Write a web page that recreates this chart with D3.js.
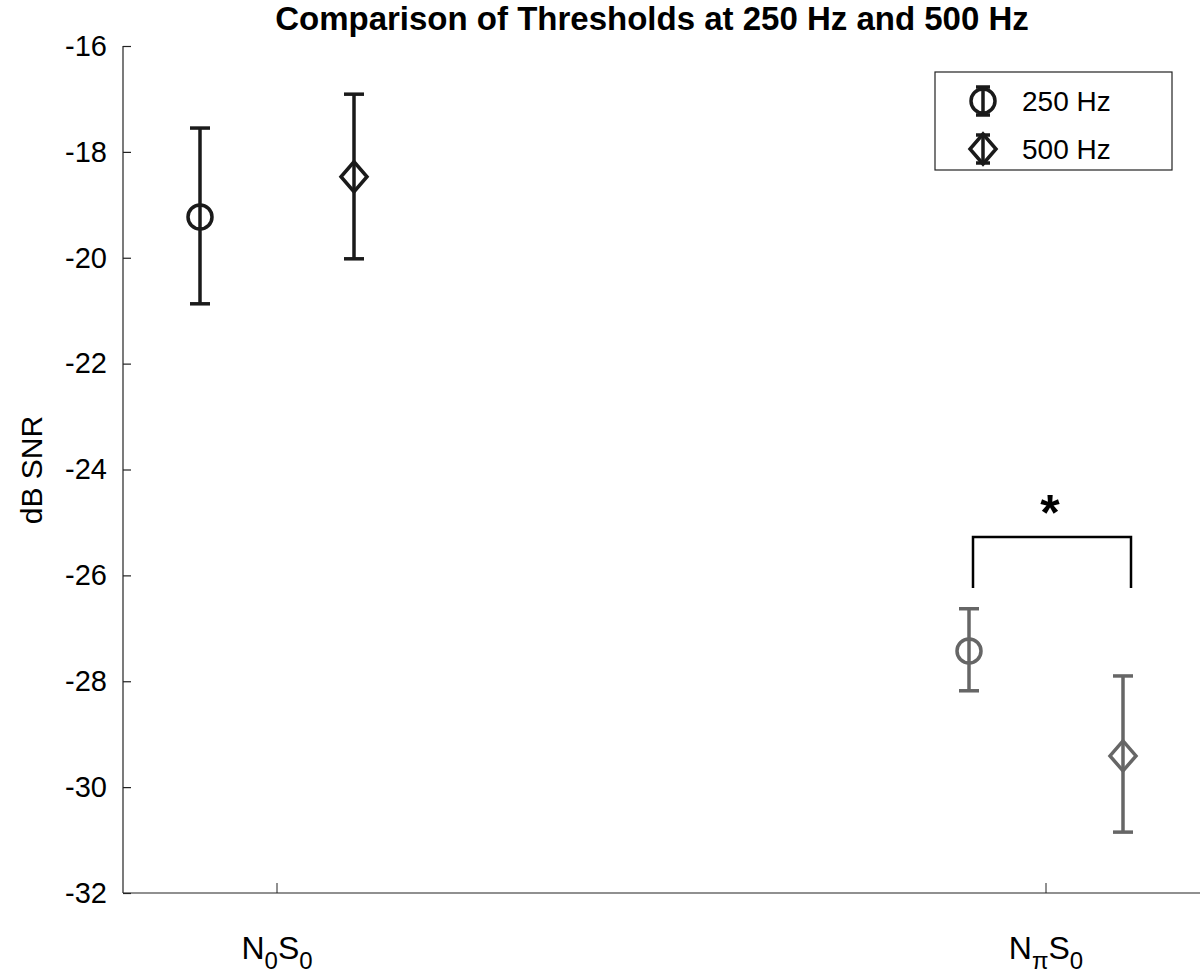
<!DOCTYPE html><html><head><script src="https://cdn.jsdelivr.net/npm/d3@7"></script>
<style>body{margin:0;background:#fff}</style></head><body><svg id="c" width="1200" height="972"></svg>
<script>
const categories=["N0S0","NπS0"];
const series=["250 Hz","500 Hz"];
const means=[[-19.23,-27.43],[-18.47,-29.41]];
const upper=[[-17.55,-26.63],[-16.91,-27.9]];
const lower=[[-20.87,-28.18],[-20.02,-30.85]];
const yTicks=[-32,-30,-28,-26,-24,-22,-20,-18,-16];
const colors=["#1a1a1a","#666666"];
const svg=d3.select("#c");
const f="Arial, 'Liberation Sans', sans-serif";
const y=d3.scaleLinear().domain([-32,-16]).range([893,46]);
const x=d3.scaleLinear().domain([0,1]).range([277,1046]);
const off=77;
svg.append("text").attr("x",652).attr("y",30).attr("text-anchor","middle").attr("font-family",f).attr("font-weight","bold").attr("font-size",33).text("Comparison of Thresholds at 250 Hz and 500 Hz");
const ya=svg.append("g").attr("transform","translate(123,0)").call(d3.axisLeft(y).tickValues(yTicks).tickFormat(d=>String(d)).tickSize(-8).tickPadding(16));
ya.selectAll("text").attr("font-family",f).attr("font-size",29).attr("fill","#000");
ya.selectAll("line,path").attr("stroke","#222").attr("stroke-width",1.2);
ya.select(".domain").attr("d","M0,46V893");
const xa=svg.append("g").attr("transform","translate(0,893)");
xa.append("line").attr("x1",123).attr("x2",1200).attr("stroke","#222").attr("stroke-width",1.2);
categories.forEach((c,i)=>{xa.append("line").attr("x1",x(i)).attr("x2",x(i)).attr("y1",0).attr("y2",-10).attr("stroke","#222");});
function lab(cx,sub){const tx=xa.append("text").attr("x",cx).attr("y",66).attr("text-anchor","middle").attr("font-family",f).attr("font-size",32);
 tx.append("tspan").text("N");tx.append("tspan").attr("dy",10).attr("font-size",24).text(sub);tx.append("tspan").attr("dy",-10).text("S");tx.append("tspan").attr("dy",10).attr("font-size",24).text("0");}
lab(x(0),"0");lab(x(1),"π");
svg.append("text").attr("transform","translate(42,470) rotate(-90)").attr("text-anchor","middle").attr("font-family",f).attr("font-size",30).text("dB SNR");
function marker(g,s,cx,cy,col){if(s===0)g.append("circle").attr("cx",cx).attr("cy",cy).attr("r",12).attr("fill","none").attr("stroke",col).attr("stroke-width",3.5);
 else g.append("path").attr("d",`M${cx},${cy-15}L${cx+13},${cy}L${cx},${cy+15}L${cx-13},${cy}Z`).attr("fill","none").attr("stroke",col).attr("stroke-width",3.5);}
series.forEach((s,si)=>categories.forEach((c,ci)=>{
 const cx=x(ci)+(si===0?-off:off),col=colors[ci],g=svg.append("g");
 const w=10;
 g.append("line").attr("x1",cx).attr("x2",cx).attr("y1",y(upper[si][ci])).attr("y2",y(lower[si][ci])).attr("stroke",col).attr("stroke-width",3.5);
 [upper[si][ci],lower[si][ci]].forEach(v=>g.append("line").attr("x1",cx-w).attr("x2",cx+w).attr("y1",y(v)).attr("y2",y(v)).attr("stroke",col).attr("stroke-width",3.5));
 marker(g,si,cx,y(means[si][ci]),col);
}));
svg.append("path").attr("d",`M973,588V537H1131V588`).attr("fill","none").attr("stroke","#000").attr("stroke-width",2.5);
svg.append("text").attr("x",1050).attr("y",530).attr("text-anchor","middle").attr("font-family",f).attr("font-weight","bold").attr("font-size",50).text("*");
const lg=svg.append("g");
lg.append("rect").attr("x",935).attr("y",72).attr("width",237).attr("height",98).attr("fill","#fff").attr("stroke","#222").attr("stroke-width",1.2);
series.forEach((s,i)=>{const cy=101+i*48,cx=983;
 lg.append("line").attr("x1",cx).attr("x2",cx).attr("y1",cy-14).attr("y2",cy+14).attr("stroke","#1a1a1a").attr("stroke-width",3.5);
 [cy-14,cy+14].forEach(v=>lg.append("line").attr("x1",cx-7).attr("x2",cx+7).attr("y1",v).attr("y2",v).attr("stroke","#1a1a1a").attr("stroke-width",3.5));
 marker(lg,i,cx,cy,"#1a1a1a");
 lg.append("text").attr("x",1022).attr("y",cy+10).attr("font-family",f).attr("font-size",28).text(s);});
</script></body></html>
